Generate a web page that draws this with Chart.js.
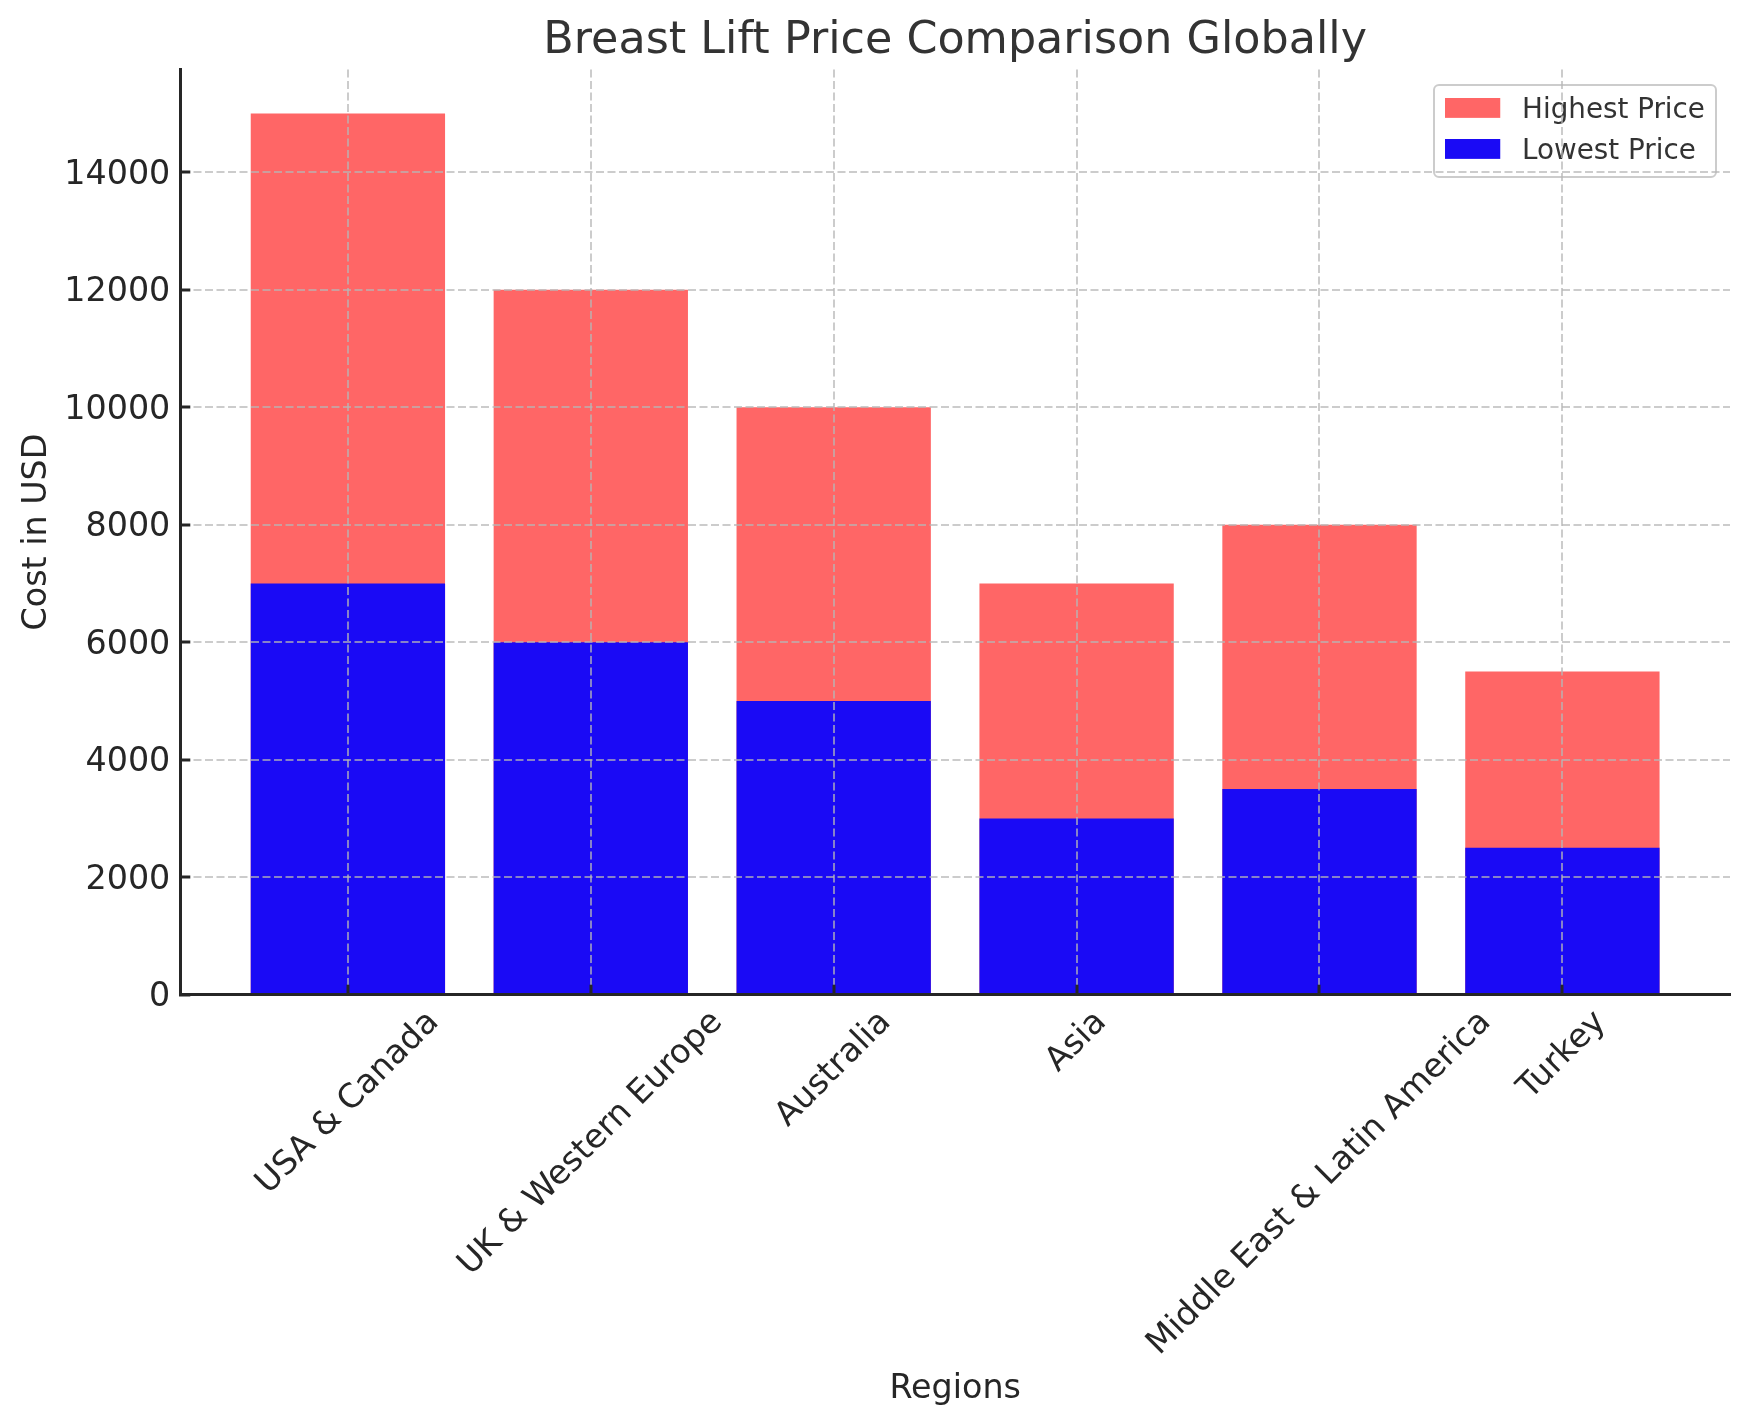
<!DOCTYPE html>
<html>
<head>
<meta charset="utf-8">
<style>
  html, body { margin: 0; padding: 0; background: #fff; }
  #wrap { width: 1750px; height: 1424px; }
</style>
<script src="https://cdn.jsdelivr.net/npm/chart.js@4"></script>
</head>
<body>
<div id="wrap"><canvas id="priceChart"></canvas></div>
<script>
const regions = ['USA & Canada', 'UK & Western Europe', 'Australia', 'Asia', 'Middle East & Latin America', 'Turkey'];
const highestPrice = [15000, 12000, 10000, 7000, 8000, 5500];
const lowestPrice = [7000, 6000, 5000, 3000, 3500, 2500];
const yTicks = [0, 2000, 4000, 6000, 8000, 10000, 12000, 14000];

const RED = '#ff6666';
const BLUE = '#1a0af5';
const FONT = '"DejaVu Sans"';
const GRID = 'rgba(182,182,182,0.7)';
const INK = '#262626';
const LABEL_SIZE = 33.33;

// legend swatch with blank strips right and below: wider gap before the text, text sits a bit lower
function swatch(color) {
    const c = document.createElement('canvas');
    c.width = 63;
    c.height = 25;
    const g = c.getContext('2d');
    g.fillStyle = color;
    g.fillRect(0, 0, 55, 20);
    return c;
}

// rotated labels centred on their tick, plus the position of the legend and its frame
const layoutExtras = {
    id: 'layoutExtras',
    beforeLayout(chart) {
        const legend = chart.legend;
        legend.z = 3;
        if (!legend.framed) {
            const drawLegend = legend.draw;
            legend.draw = function () {
                const ctx = chart.ctx;
                ctx.save();
                ctx.beginPath();
                ctx.roundRect(1434, 85, 282, 92, 5);
                ctx.fillStyle = 'rgba(255,255,255,0.8)';
                ctx.fill();
                ctx.lineWidth = 2;
                ctx.strokeStyle = '#cccccc';
                ctx.stroke();
                ctx.restore();
                drawLegend.call(legend);
            };
            legend.framed = true;
        }
    },
    afterLayout(chart) {
        const legend = chart.legend;
        legend.left = 1432;
        legend.right = 1730;
        legend.top = 83.25;
        legend.bottom = 400;
    },
    afterDraw(chart) {
        const ctx = chart.ctx;
        const x = chart.scales.x;
        ctx.save();
        ctx.font = LABEL_SIZE + 'px ' + FONT;
        ctx.fillStyle = INK;
        ctx.textAlign = 'center';
        ctx.textBaseline = 'middle';
        regions.forEach((name, i) => {
            const half = (ctx.measureText(name).width + 38) * Math.SQRT1_2 / 2;
            ctx.save();
            ctx.translate(x.getPixelForValue(i), chart.chartArea.bottom + 9 + half);
            ctx.rotate(-Math.PI / 4);
            ctx.fillText(name, 0, 0);
            ctx.restore();
        });
        ctx.restore();
    }
};

const swatches = [swatch(RED), swatch(BLUE)];

new Chart(document.getElementById('priceChart'), {
    type: 'bar',
    plugins: [layoutExtras],
    data: {
        datasets: [
            {
                label: 'Highest Price',
                data: highestPrice.map((v, i) => ({ x: i, y: v })),
                backgroundColor: RED,
                order: 2
            },
            {
                label: 'Lowest Price',
                data: lowestPrice.map((v, i) => ({ x: i, y: v })),
                backgroundColor: BLUE,
                order: 1
            }
        ]
    },
    options: {
        responsive: true,
        maintainAspectRatio: false,
        animation: false,
        grouped: false,
        barPercentage: 0.8,
        categoryPercentage: 1,
        layout: { padding: { left: 0, right: 20, top: 0, bottom: 0 } },
        plugins: {
            title: {
                display: true,
                text: 'Breast Lift Price Comparison Globally',
                color: '#333333',
                fullSize: false,
                font: { family: FONT, size: 44.44, weight: 'normal', lineHeight: 1 },
                padding: { top: 19, bottom: 6 }
            },
            legend: {
                position: 'chartArea',
                align: 'start',
                labels: {
                    color: '#333333',
                    font: { family: FONT, size: 27.78 },
                    usePointStyle: true,
                    pointStyleWidth: 63,
                    boxHeight: 20,
                    padding: 13.2,
                    generateLabels: chart => chart.data.datasets.map((ds, i) => ({
                        text: ds.label,
                        datasetIndex: i,
                        pointStyle: swatches[i],
                        fontColor: '#333333',
                        lineWidth: 0
                    }))
                }
            },
            tooltip: { enabled: false }
        },
        scales: {
            x: {
                type: 'linear',
                offset: false,
                min: -0.69,
                max: 5.69,
                afterFit(scale) { scale.height = 429.3; },
                title: {
                    display: true,
                    text: 'Regions',
                    color: INK,
                    font: { family: FONT, size: LABEL_SIZE },
                    padding: { top: 0, bottom: 15 }
                },
                border: { color: INK, width: 3, z: 2, dash: [8, 3.5] },
                grid: {
                    offset: false,
                    z: 1,
                    color: GRID,
                    lineWidth: 2,
                    tickLength: -10,
                    tickColor: INK,
                    tickWidth: 3,
                    tickBorderDash: []
                },
                ticks: {
                    display: false,
                    stepSize: 1,
                    includeBounds: false
                }
            },
            y: {
                min: 0,
                max: 15750,
                afterFit(scale) { scale.width = 180.3; },
                afterBuildTicks(scale) { scale.ticks = yTicks.map(v => ({ value: v })); },
                title: {
                    display: true,
                    text: 'Cost in USD',
                    color: INK,
                    font: { family: FONT, size: LABEL_SIZE },
                    padding: { top: 17, bottom: 0 }
                },
                border: { color: INK, width: 3, z: 2, dash: [8, 3.5] },
                grid: {
                    z: 1,
                    color: GRID,
                    lineWidth: 2,
                    tickLength: -10,
                    tickColor: INK,
                    tickWidth: 3,
                    tickBorderDash: []
                },
                ticks: {
                    color: INK,
                    padding: 20,
                    labelOffset: 3,
                    font: { family: FONT, size: LABEL_SIZE },
                    callback: v => String(v)
                }
            }
        }
    }
});
</script>
</body>
</html>
